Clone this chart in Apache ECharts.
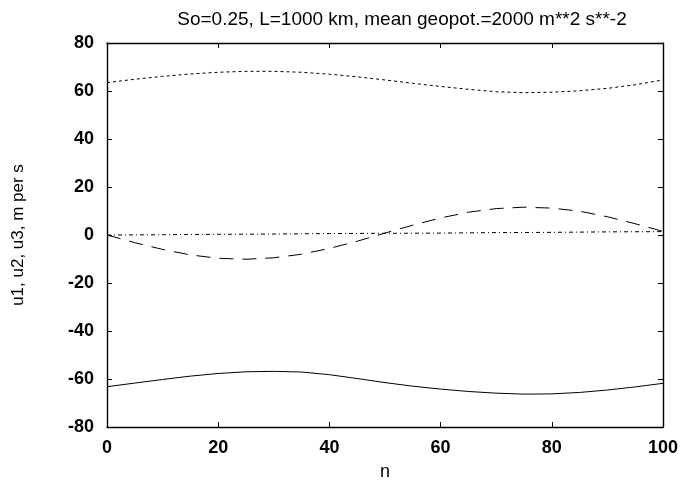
<!DOCTYPE html>
<html>
<head>
<meta charset="utf-8">
<script src="https://cdn.jsdelivr.net/npm/echarts@6/dist/echarts.min.js"></script>
<style>
  html, body { margin: 0; padding: 0; background: #fff; }
  #chart { width: 686px; height: 483px; }
</style>
</head>
<body>
<div id="chart"></div>
<script>
// Sample positions along n
const nValues = [0, 5, 10, 15, 20, 25, 30, 35, 40, 45, 50, 55, 60, 65, 70, 75, 80, 85, 90, 95, 100];

// Velocity components (m per s)
const uTop = [63.5, 64.9, 66.1, 67.1, 67.8, 68.2, 68.2, 67.8, 67.0, 65.9, 64.6, 63.2, 61.9, 60.7, 59.7, 59.3, 59.5, 60.1, 61.1, 62.6, 64.6];
const uMid = [0, -3.2, -6.0, -8.3, -9.7, -10.1, -9.5, -8.0, -5.6, -2.6, 0.8, 4.1, 7.1, 9.5, 11.0, 11.6, 11.2, 9.9, 7.6, 4.7, 1.5];
const uBottom = [-63.2, -61.7, -60.2, -58.8, -57.7, -57.0, -56.8, -57.1, -58.2, -59.8, -61.5, -63.0, -64.2, -65.2, -65.9, -66.3, -66.2, -65.6, -64.6, -63.3, -61.8];

// Nearly flat reference line
const nFlat = [0, 10, 20, 30, 40, 50, 60, 70, 80, 90, 100];
const uFlat = [0, 0.1, 0.3, 0.4, 0.6, 0.7, 0.8, 1.0, 1.1, 1.3, 1.4];

const xTicks = [0, 20, 40, 60, 80, 100];
const yTicks = [-80, -60, -40, -20, 0, 20, 40, 60, 80];

const titleText = 'So=0.25, L=1000 km, mean geopot.=2000 m**2 s**-2';
const xName = 'n';
const yName = 'u1, u2, u3, m per s';

const pairs = (xs, ys) => xs.map((x, i) => [x, ys[i]]);

const FONT = '"Liberation Sans", Arial, sans-serif';

const lineSeries = (data, dash) => ({
  type: 'line',
  data: data,
  showSymbol: false,
  smooth: false,
  silent: true,
  lineStyle: { color: '#000', width: 1, type: dash }
});

const chart = echarts.init(document.getElementById('chart'), null, { renderer: 'canvas' });

const axisCommon = {
  type: 'value',
  axisLine: { show: true, onZero: false, lineStyle: { color: '#000', width: 1.4 } },
  axisTick: { show: true, inside: true, length: 5, lineStyle: { color: '#000' } },
  splitLine: { show: false }
};

chart.setOption({
  animation: false,
  backgroundColor: '#fff',
  title: {
    text: titleText,
    left: 397, top: 5, textAlign: 'center',
    textStyle: { fontFamily: FONT, fontSize: 19, fontWeight: 'normal', color: '#000' }
  },
  grid: { left: 107, right: 23, top: 43, bottom: 56, containLabel: false, outerBoundsMode: 'none' },
  xAxis: [
    Object.assign({}, axisCommon, {
      min: 0, max: 100, interval: 20, position: 'bottom',
      name: xName, nameLocation: 'middle', nameGap: 36,
      nameTextStyle: { fontFamily: FONT, fontSize: 18, color: '#000' },
      axisLabel: {
        fontFamily: FONT, fontSize: 18, fontWeight: 'bold', color: '#000', margin: 12,
        customValues: xTicks
      }
    }),
    Object.assign({}, axisCommon, {
      min: 0, max: 100, interval: 20, position: 'top',
      axisLabel: { show: false }
    })
  ],
  yAxis: [
    Object.assign({}, axisCommon, {
      min: -80, max: 80, interval: 20, position: 'left',
      name: yName, nameLocation: 'middle', nameGap: 80, nameRotate: 90,
      nameTextStyle: { fontFamily: FONT, fontSize: 17, color: '#000' },
      axisLabel: {
        fontFamily: FONT, fontSize: 18, fontWeight: 'bold', color: '#000', margin: 13,
        customValues: yTicks
      }
    }),
    Object.assign({}, axisCommon, {
      min: -80, max: 80, interval: 20, position: 'right',
      axisLabel: { show: false }
    })
  ],
  series: [
    lineSeries(pairs(nValues, uTop), [3, 3]),
    lineSeries(pairs(nValues, uMid), [14, 9]),
    lineSeries(pairs(nFlat, uFlat), [4, 3, 1, 3]),
    lineSeries(pairs(nValues, uBottom), 'solid')
  ]
});
</script>
</body>
</html>
